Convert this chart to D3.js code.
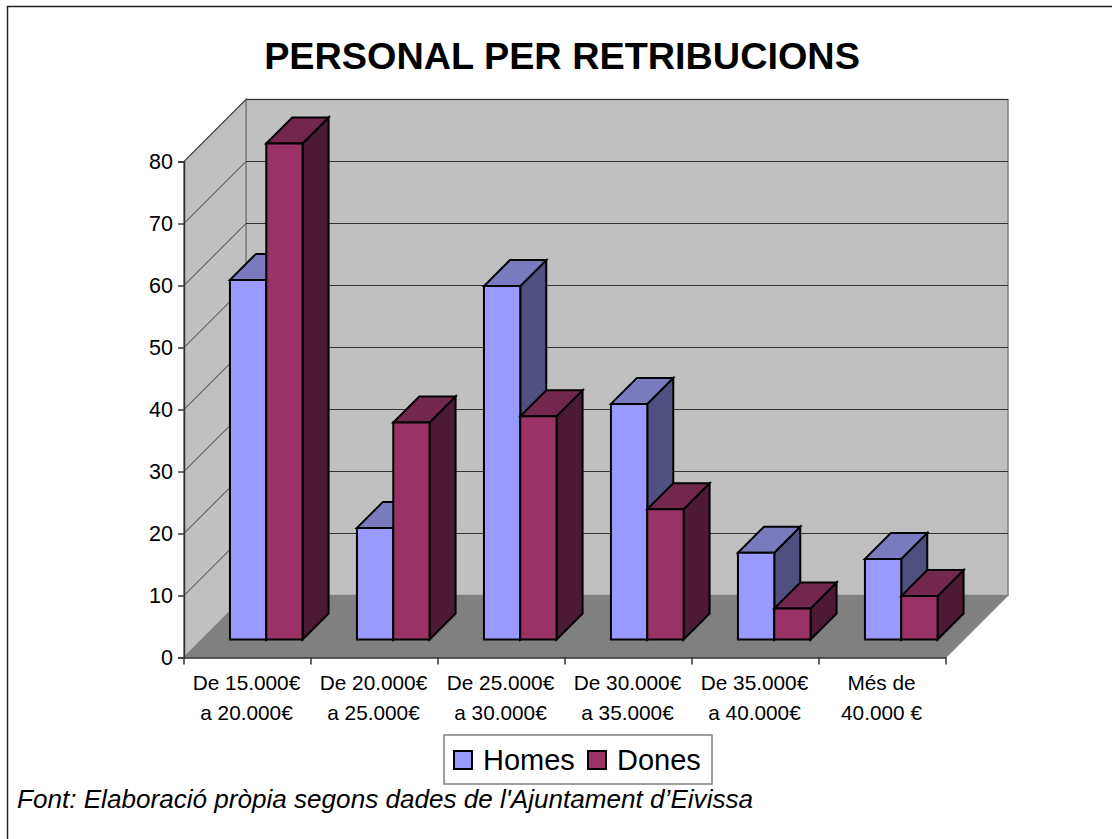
<!DOCTYPE html>
<html>
<head>
<meta charset="utf-8">
<script src="https://cdn.jsdelivr.net/npm/d3@7"></script>
<style>
  html, body { margin: 0; padding: 0; background: #fff; }
  svg { display: block; }
  text { font-family: "Liberation Sans", Arial, sans-serif; fill: #000; }
</style>
</head>
<body>
<svg id="chart" width="1112" height="839"></svg>
<script>
const categories = [
    ['De 15.000€', 'a 20.000€'],
    ['De 20.000€', 'a 25.000€'],
    ['De 25.000€', 'a 30.000€'],
    ['De 30.000€', 'a 35.000€'],
    ['De 35.000€', 'a 40.000€'],
    ['Més de', '40.000 €']
];
const homes = [58, 18, 57, 38, 14, 13];
const dones = [80, 35, 36, 21, 5, 7];
const seriesNames = ['Homes', 'Dones'];
const yTicks = [0, 10, 20, 30, 40, 50, 60, 70, 80];

const titleText = 'PERSONAL PER RETRIBUCIONS';
const sourceText = "Font: Elaboració pròpia segons dades de l'Ajuntament d’Eivissa";

// colours: front, top, side
const colors = {
    Homes: ['#9999FF', '#7A7ABF', '#4F4F80'],
    Dones: ['#993366', '#73274D', '#4D1A33']
};

const svg = d3.select('#chart');

// outer frame
svg.append('rect')
    .attr('x', 7.5).attr('y', 6.5)
    .attr('width', 1110).attr('height', 840)
    .attr('fill', '#fff').attr('stroke', '#222').attr('stroke-width', 1.5);

svg.append('text')
    .attr('x', 562).attr('y', 69)
    .attr('text-anchor', 'middle')
    .style('font-size', '37.8px').style('font-weight', 'bold')
    .text(titleText);

// scales for the front plane of the box
const y = d3.scaleLinear().domain([0, 80]).range([657.5, 161.5]);
const x = d3.scaleBand().domain(d3.range(categories.length)).range([184, 946]);

const depth = 62;       // offset of the back wall
const barFront = 18;    // offset of the bar front
const barDepth = 26;    // depth of the bar itself
const barWidth = x.bandwidth() * 0.286;
const barStart = x.bandwidth() * 0.22;

const poly = pts => pts.map(p => p.join(',')).join(' ');
const x0 = x.range()[0], x1 = x.range()[1];
const yBase = y(0), yTop = y(80);

// back wall, side wall, floor
svg.append('polygon')
    .attr('points', poly([[x0 + depth, yTop - depth], [x1 + depth, yTop - depth], [x1 + depth, yBase - depth], [x0 + depth, yBase - depth]]))
    .attr('fill', '#C0C0C0').attr('stroke', '#808080').attr('stroke-width', 1.5);
svg.append('polygon')
    .attr('points', poly([[x0, yTop], [x0 + depth, yTop - depth], [x0 + depth, yBase - depth], [x0, yBase]]))
    .attr('fill', '#C0C0C0').attr('stroke', '#808080').attr('stroke-width', 1.5);

// gridlines
yTicks.slice(1).forEach(t => {
    svg.append('polyline')
        .attr('points', poly([[x0, y(t)], [x0 + depth, y(t) - depth], [x1 + depth, y(t) - depth]]))
        .attr('fill', 'none').attr('stroke', '#333').attr('stroke-width', 1);
});

svg.append('polygon')
    .attr('points', poly([[x0, yBase], [x0 + depth, yBase - depth], [x1 + depth, yBase - depth], [x1, yBase]]))
    .attr('fill', '#808080').attr('stroke', '#808080').attr('stroke-width', 1);

// axes
const yAxis = d3.axisLeft(y).tickValues(yTicks).tickSize(6).tickPadding(5);
const gy = svg.append('g').attr('transform', `translate(${x0},0)`).call(yAxis);
gy.selectAll('text').style('font-size', '21.5px').attr('dy', '0.34em');
gy.selectAll('line, path').attr('stroke', '#333').attr('stroke-width', 1.5);

const xAxis = d3.axisBottom(x).tickValues([]).tickSizeOuter(0);
const gx = svg.append('g').attr('transform', `translate(0,${yBase})`).call(xAxis);
gx.select('path').attr('stroke', '#333').attr('stroke-width', 1.5);
d3.range(categories.length + 1).forEach(i => {
    const tx = x0 + i * x.bandwidth();
    gx.append('line').attr('x1', tx).attr('x2', tx).attr('y1', 0).attr('y2', 7)
        .attr('stroke', '#333').attr('stroke-width', 1.5);
});

// bars, drawn left to right so later ones sit on top
function drawBar(left, value, name) {
    const right = left + barWidth;
    const bottom = yBase - barFront;
    const top = y(value) - barFront;
    const c = colors[name];
    const g = svg.append('g').attr('stroke', '#000').attr('stroke-width', 2).attr('stroke-linejoin', 'miter');
    g.append('polygon').attr('fill', c[2])
        .attr('points', poly([[right, top], [right + barDepth, top - barDepth], [right + barDepth, bottom - barDepth], [right, bottom]]));
    g.append('polygon').attr('fill', c[1])
        .attr('points', poly([[left, top], [left + barDepth, top - barDepth], [right + barDepth, top - barDepth], [right, top]]));
    g.append('polygon').attr('fill', c[0])
        .attr('points', poly([[left, top], [right, top], [right, bottom], [left, bottom]]));
}

categories.forEach((cat, i) => {
    const left = x(i) + barFront + barStart;
    drawBar(left, homes[i], 'Homes');
    drawBar(left + barWidth, dones[i], 'Dones');
});

// category labels
const labels = svg.append('g').style('font-size', '20.8px').attr('text-anchor', 'middle');
categories.forEach((cat, i) => {
    cat.forEach((line, k) => {
        labels.append('text')
            .attr('x', x(i) + x.bandwidth() / 2 - 1)
            .attr('y', 690 + k * 30)
            .text(line);
    });
});

// legend
const legend = svg.append('g');
legend.append('rect')
    .attr('x', 444).attr('y', 735).attr('width', 268).attr('height', 49)
    .attr('fill', '#fff').attr('stroke', '#808080').attr('stroke-width', 1.5);
const legendX = [454, 588];
seriesNames.forEach((name, i) => {
    legend.append('rect')
        .attr('x', legendX[i]).attr('y', 751).attr('width', 18).attr('height', 18)
        .attr('fill', colors[name][0]).attr('stroke', '#000').attr('stroke-width', 2);
    legend.append('text')
        .attr('x', legendX[i] + 29).attr('y', 770)
        .style('font-size', '29px')
        .text(name);
});

svg.append('text')
    .attr('x', 17).attr('y', 808)
    .style('font-size', '26.1px').style('font-style', 'italic')
    .text(sourceText);
</script>
</body>
</html>
